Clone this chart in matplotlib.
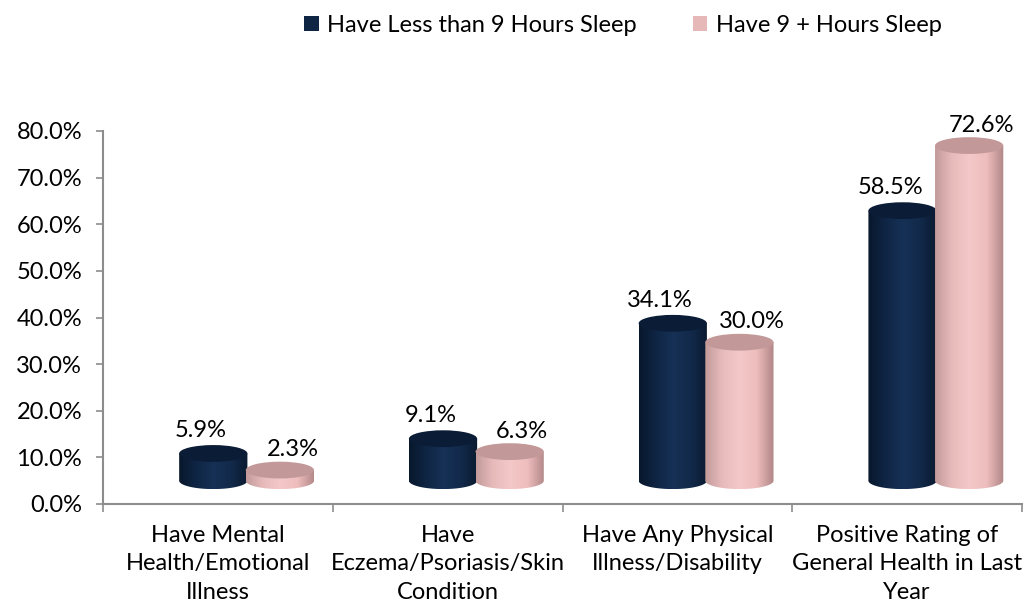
import numpy as np
import matplotlib
matplotlib.use("Agg")
import matplotlib.pyplot as plt
from matplotlib.patches import Ellipse, Patch, PathPatch
from matplotlib.path import Path
from matplotlib.colors import LinearSegmentedColormap

categories = ["Have Mental\nHealth/Emotional\nIllness",
              "Have\nEczema/Psoriasis/Skin\nCondition",
              "Have Any Physical\nIllness/Disability",
              "Positive Rating of\nGeneral Health in Last\nYear"]
less_than_9 = [5.9, 9.1, 34.1, 58.5]
nine_plus = [2.3, 6.3, 30.0, 72.6]
series_names = ["Have Less than 9 Hours Sleep", "Have 9 + Hours Sleep"]
yticks = [0, 10, 20, 30, 40, 50, 60, 70, 80]

plt.rcParams['font.family'] = ['Lato', 'DejaVu Sans']
FS = 17

fig = plt.figure(figsize=(10.24, 6.02), dpi=100)
ax = fig.add_axes([103/1024, (602-504)/602, (1022-103)/1024, (504-131)/602])
ax.set_xlim(-0.5, 3.5)
ax.set_ylim(0, 80)

# 3D-look parameters (perspective floor offset)
base = 5.0
scale = 0.99
width = 0.297
offsets = [-0.02, 0.27]
eh = 3.6  # ellipse height in data units

dark_cmap = LinearSegmentedColormap.from_list("d", ["#08182c", "#0f2544", "#163156", "#122a4b", "#0a1a30"])
pink_cmap = LinearSegmentedColormap.from_list("p", ["#c29a9a", "#e8bbbb", "#f4c8c8", "#eebdbd", "#b08686"])
top_colors = ["#0b1d36", "#c29898"]
cmaps = [dark_cmap, pink_cmap]

grad = np.linspace(0, 1, 256).reshape(1, -1)

def cylinder(xc, val, cmap, topc, z):
    top = base + val * scale
    x0, x1 = xc - width/2, xc + width/2
    t = np.linspace(np.pi, 2*np.pi, 60)
    bx = xc + (width/2) * np.cos(t)
    by = base + (eh/2) * np.sin(t)
    verts = [(x0, top)] + list(zip(bx, by)) + [(x1, top), (x0, top)]
    path = Path(verts, closed=True)
    clip = PathPatch(path, transform=ax.transData, facecolor='none', edgecolor='none')
    ax.add_patch(clip)
    im = ax.imshow(grad, cmap=cmap, extent=[x0, x1, base - eh/2, top], aspect='auto',
                   zorder=z, interpolation='bicubic')
    im.set_clip_path(clip)
    ax.add_patch(Ellipse((xc, top), width, eh, facecolor=topc, edgecolor='none', zorder=z + 0.1))
    return top

for s, vals in enumerate([less_than_9, nine_plus]):
    for i, v in enumerate(vals):
        xc = i + offsets[s]
        top = cylinder(xc, v, cmaps[s], top_colors[s], 3 + s)
        if s == 0:
            ax.annotate(f"{v:.1f}%", (xc, top + eh/2), xytext=(-9, 3), textcoords='offset points',
                        ha='center', va='bottom', fontsize=FS, color='black', annotation_clip=False, zorder=10)
        else:
            ax.annotate(f"{v:.1f}%", (xc, top + eh/2), xytext=(9, 1), textcoords='offset points',
                        ha='center', va='bottom', fontsize=FS, color='black', annotation_clip=False, zorder=10)

ax.set_xlim(-0.5, 3.5)
ax.set_ylim(0, 80)

for sp in ['top', 'right']:
    ax.spines[sp].set_visible(False)
for sp in ['left', 'bottom']:
    ax.spines[sp].set_color('#8c8c8c')
    ax.spines[sp].set_linewidth(1.5)

ax.set_yticks(yticks)
ax.set_yticklabels([f"{y:.1f}%" for y in yticks], fontsize=FS)
ax.tick_params(axis='y', length=5, width=1.2, color='#8c8c8c', pad=10)

ax.set_xticks([-0.5, 0.5, 1.5, 2.5, 3.5])
ax.set_xticklabels([])
ax.tick_params(axis='x', which='major', length=6, width=1.2, color='#8c8c8c')
ax.set_xticks(range(len(categories)), minor=True)
ax.set_xticklabels(categories, minor=True, fontsize=FS, linespacing=1.45)
ax.tick_params(axis='x', which='minor', length=0, pad=15)

handles = [Patch(facecolor='#0f2544', edgecolor='none'), Patch(facecolor='#e6b9b8', edgecolor='none')]
fig.legend(handles, series_names, loc='center', bbox_to_anchor=(623/1024, 1 - 25/602), ncol=2,
           frameon=False, fontsize=FS, handlelength=0.6, handleheight=0.6, handletextpad=0.35,
           columnspacing=2.4)

fig.savefig("out.png", dpi=100)
